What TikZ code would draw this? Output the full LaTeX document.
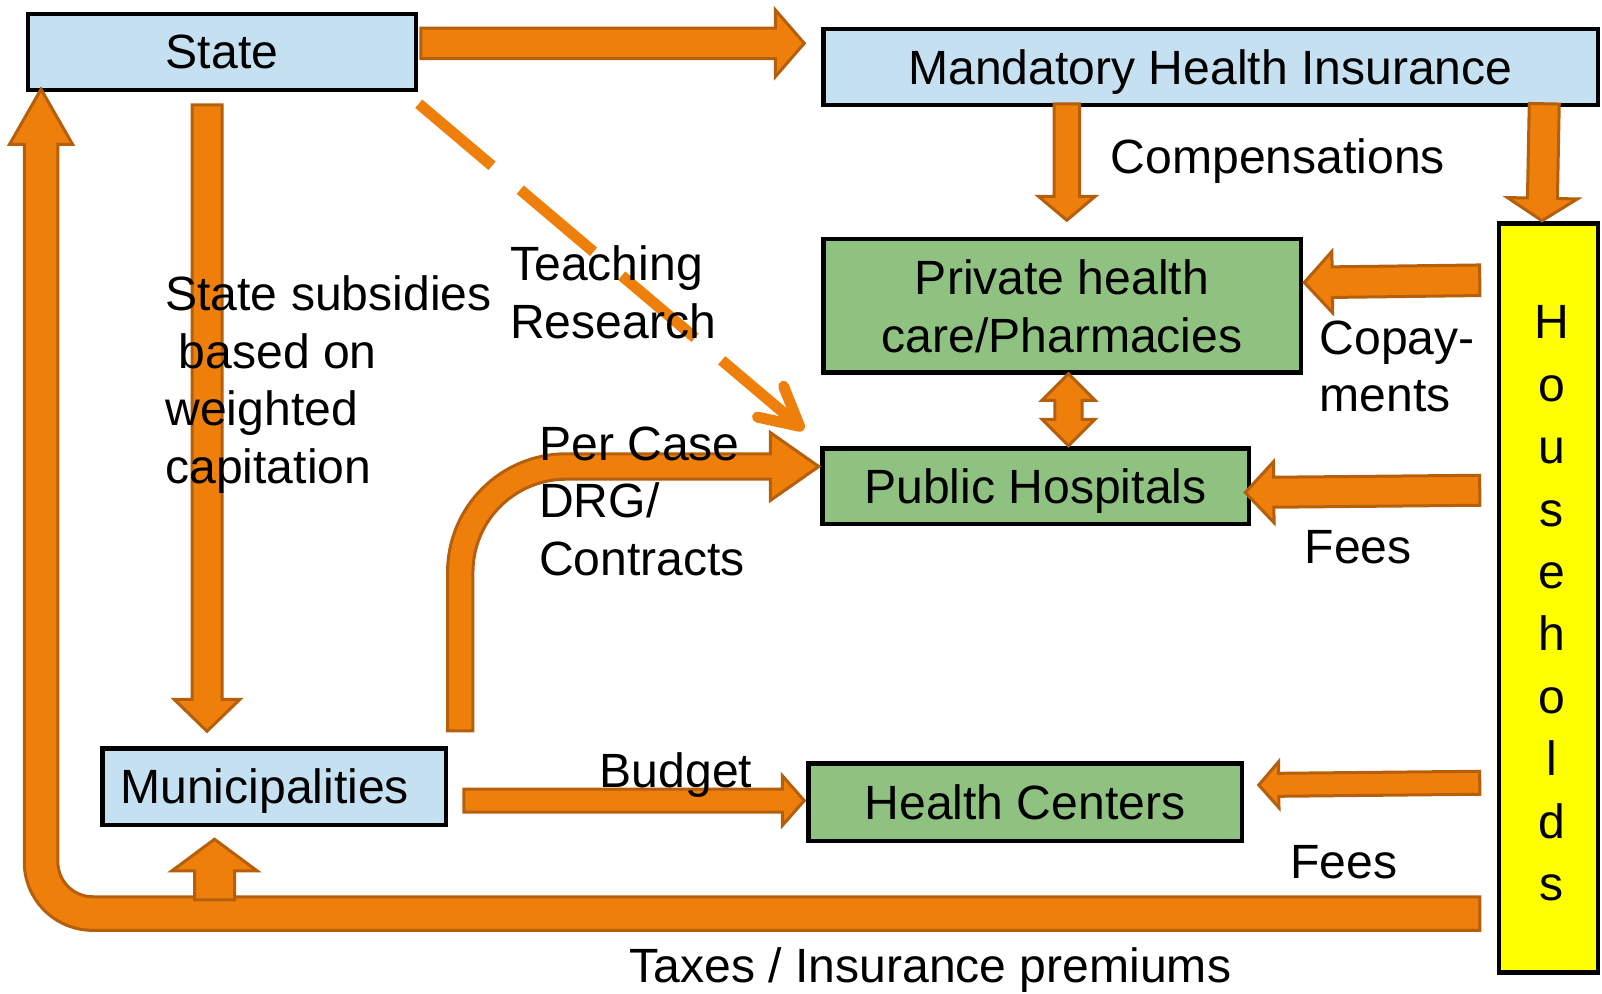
\documentclass[tikz,border=0pt]{standalone}
\usepackage{fontspec}
\setmainfont{Liberation Sans}
\usetikzlibrary{calc}

\definecolor{boxblue}{RGB}{197,224,241}
\definecolor{boxgreen}{RGB}{143,193,128}
\definecolor{hhyellow}{RGB}{255,255,0}
\definecolor{flowfill}{RGB}{238,127,11}
\definecolor{flowedge}{RGB}{181,94,11}

% straight block arrow from #1 to #2: shaft half-width #3, head half-width #4, head length #5
\newcommand\blockarrow[5]{%
  \draw[flow] let \p1=(#1), \p2=(#2),
      \n1={atan2(\y2-\y1,\x2-\x1)}, \n2={veclen(\x2-\x1,\y2-\y1)} in
    [shift={(\p1)}, rotate=\n1]
    (0pt,#3) -- (\n2-#5,#3) -- (\n2-#5,#4) -- (\n2,0pt)
    -- (\n2-#5,-#4) -- (\n2-#5,-#3) -- (0pt,-#3) -- cycle;}
% block arrow with a head at both ends
\newcommand\doublearrow[5]{%
  \draw[flow] let \p1=(#1), \p2=(#2),
      \n1={atan2(\y2-\y1,\x2-\x1)}, \n2={veclen(\x2-\x1,\y2-\y1)} in
    [shift={(\p1)}, rotate=\n1]
    (0pt,0pt) -- (#5,#4) -- (#5,#3) -- (\n2-#5,#3) -- (\n2-#5,#4) -- (\n2,0pt)
    -- (\n2-#5,-#4) -- (\n2-#5,-#3) -- (#5,-#3) -- (#5,-#4) -- cycle;}

\begin{document}
\begin{tikzpicture}[x=1pt, y=-1pt,
  every node/.style={font=\fontsize{48.1}{57.6}\selectfont, inner sep=0pt},
  box/.style={draw=black, line width=4.5pt, text depth=0pt, align=center},
  flow/.style={fill=flowfill, draw=flowedge, line width=3pt, line join=miter},
  dashflow/.style={draw=flowfill, line width=11pt, line cap=butt,
    dash pattern=on 96pt off 37pt on 96pt off 37pt on 96pt off 35pt on 200pt off 1pt},
  tipflow/.style={draw=flowfill, line width=11pt, line cap=round, line join=round},
  lbl/.style={anchor=base west},
  mlbl/.style={anchor=north west, align=left},
]
\useasboundingbox (0,0) rectangle (1602,993);

% organisations
\node[box, fill=boxblue, minimum width=388.4pt, minimum height=76pt] (state) at (222,52) {State};
\node[box, fill=boxblue, minimum width=774.5pt, minimum height=76pt] (mhi) at (1210.5,67) {Mandatory Health Insurance};
\node[box, fill=boxgreen, minimum width=477.5pt, minimum height=133.8pt] (private) at (1062,305.8) {Private health\\care/Pharmacies};
\node[box, fill=boxgreen, minimum width=426.5pt, minimum height=75.5pt] (public) at (1035.5,486) {Public Hospitals};
\node[box, fill=boxgreen, minimum width=433.5pt, minimum height=77.5pt] (health) at (1025,802) {Health Centers};
\node[box, fill=boxblue, minimum width=343.5pt, minimum height=76.5pt] (muni) at (274,786.5) {Municipalities\hspace{18.5pt}};
\node[box, fill=hhyellow, minimum width=99pt, minimum height=749pt] (hh) at (1548.3,597.8) {};
% the households label runs down the column, one letter per line
\node[anchor=north, align=center, font=\fontsize{48.1}{62.4}\selectfont]
  (hhtext) at ($(hh.north)+(3.2,84.5)$) {H\\o\\u\\s\\e\\h\\o\\l\\d\\s};

% money flows
\blockarrow{$(state.east)+(2.3,-8.7)$}{$(mhi.west)+(-16.75,-23.7)$}{15.2pt}{33.5pt}{29pt}
\blockarrow{$(state.south)+(-15,12.5)$}{$(muni.north)+(-67,-14.75)$}{15pt}{33pt}{32pt}
\blockarrow{$(mhi.south)+(-143.7,-3.5)$}{$(private.north)+(4.8,-16.4)$}{12.7pt}{28.5pt}{24pt}
\blockarrow{$(mhi.south east)+(-55.75,-3.5)$}{$(hh.north)+(-6.3,-0.3)$}{15pt}{35pt}{22.5pt}
\blockarrow{$(hh.north west)+(-16.8,59.2)$}{$(private.east)+(1.25,-23.3)$}{15.3pt}{30.7pt}{28pt}
\blockarrow{$(hh.north west)+(-16.8,269.2)$}{$(public.east)+(-5.75,6.5)$}{15pt}{30.5pt}{28.5pt}
\blockarrow{$(hh.north west)+(-16.8,561.7)$}{$(health.east)+(14.75,-17)$}{11.5pt}{23pt}{20pt}
\blockarrow{$(muni.east)+(15.75,14.1)$}{$(health.west)+(-1.75,-1.4)$}{11.5pt}{25pt}{22pt}
\doublearrow{$(private.south)+(6.5,-1.2)$}{$(public.north)+(33,-0.25)$}{13.7pt}{26.5pt}{26.5pt}

% taxes and premiums: households back round to the state
\draw[flow] let \p1=($(hh.south west)+(-16.8,-61)$), \p2=($(state.south west)+(15.5,-3)$) in
  (\x1,\y1-16.8pt) -- (\x2+51.7pt,\y1-16.8pt)
  arc[start angle=270, end angle=180, radius=68.5pt]
  -- (\x2-16.8pt,\y2-55pt) -- (\x2-31.5pt,\y2-55pt) -- (\x2,\y2)
  -- (\x2+31.5pt,\y2-55pt) -- (\x2+16.8pt,\y2-55pt)
  -- (\x2+16.8pt,\y1+51.7pt)
  arc[start angle=180, end angle=270, radius=34.9pt]
  -- (\x1,\y1+16.8pt) -- cycle;
\blockarrow{$(muni.south)+(-59.5,72.75)$}{$(muni.south)+(-59.5,12.25)$}{20pt}{42.5pt}{31.5pt}

% municipalities pay the public hospitals
\draw[flow] let \p1=($(muni.north east)+(12.25,-15.25)$), \p2=($(public.west)+(-1.25,-19.5)$) in
  (\x1-12.7pt,\y1) -- (\x1-12.7pt,\y2-105.8pt)
  arc[start angle=180, end angle=90, radius=118.5pt]
  -- (\x2-48.5pt,\y2+12.7pt) -- (\x2-48.5pt,\y2+34pt) -- (\x2,\y2)
  -- (\x2-48.5pt,\y2-34pt) -- (\x2-48.5pt,\y2-12.7pt)
  -- (\x1+105.8pt,\y2-12.7pt)
  arc[start angle=90, end angle=180, radius=93.1pt]
  -- (\x1+12.7pt,\y1) -- cycle;

% teaching and research funds
\coordinate (dstart) at ($(state.south east)+(0.3,11.5)$);
\coordinate (dtip) at ($(public.north west)+(-20.45,-19.75)$);
\draw[dashflow] (dstart) -- (dtip);
\draw[tipflow] ($(dtip)!43pt!28:(dstart)$) -- (dtip) -- ($(dtip)!43pt!-28:(dstart)$);

% labels
\node[lbl] (comp) at (1110.5,173.3) {Compensations};
\node[mlbl] (copay) at (1319.5,320.5) {Copay-\\ments};
\node[lbl] (fees1) at (1304.5,563.6) {Fees};
\node[lbl] (fees2) at (1290.3,878.7) {Fees};
\node[lbl] (taxes) at (629.5,982) {Taxes / Insurance premiums};
\node[lbl] (budget) at (599.5,787.6) {Budget};
\node[mlbl] (drg) at (539,426.3) {Per Case\\DRG/\\Contracts};
\node[mlbl] (teach) at (510,245.5) {Teaching\\Research};
\node[mlbl] (subsidy) at (165.2,275.5) {State subsidies\\\ based on\\weighted\\capitation};
\end{tikzpicture}
\end{document}
